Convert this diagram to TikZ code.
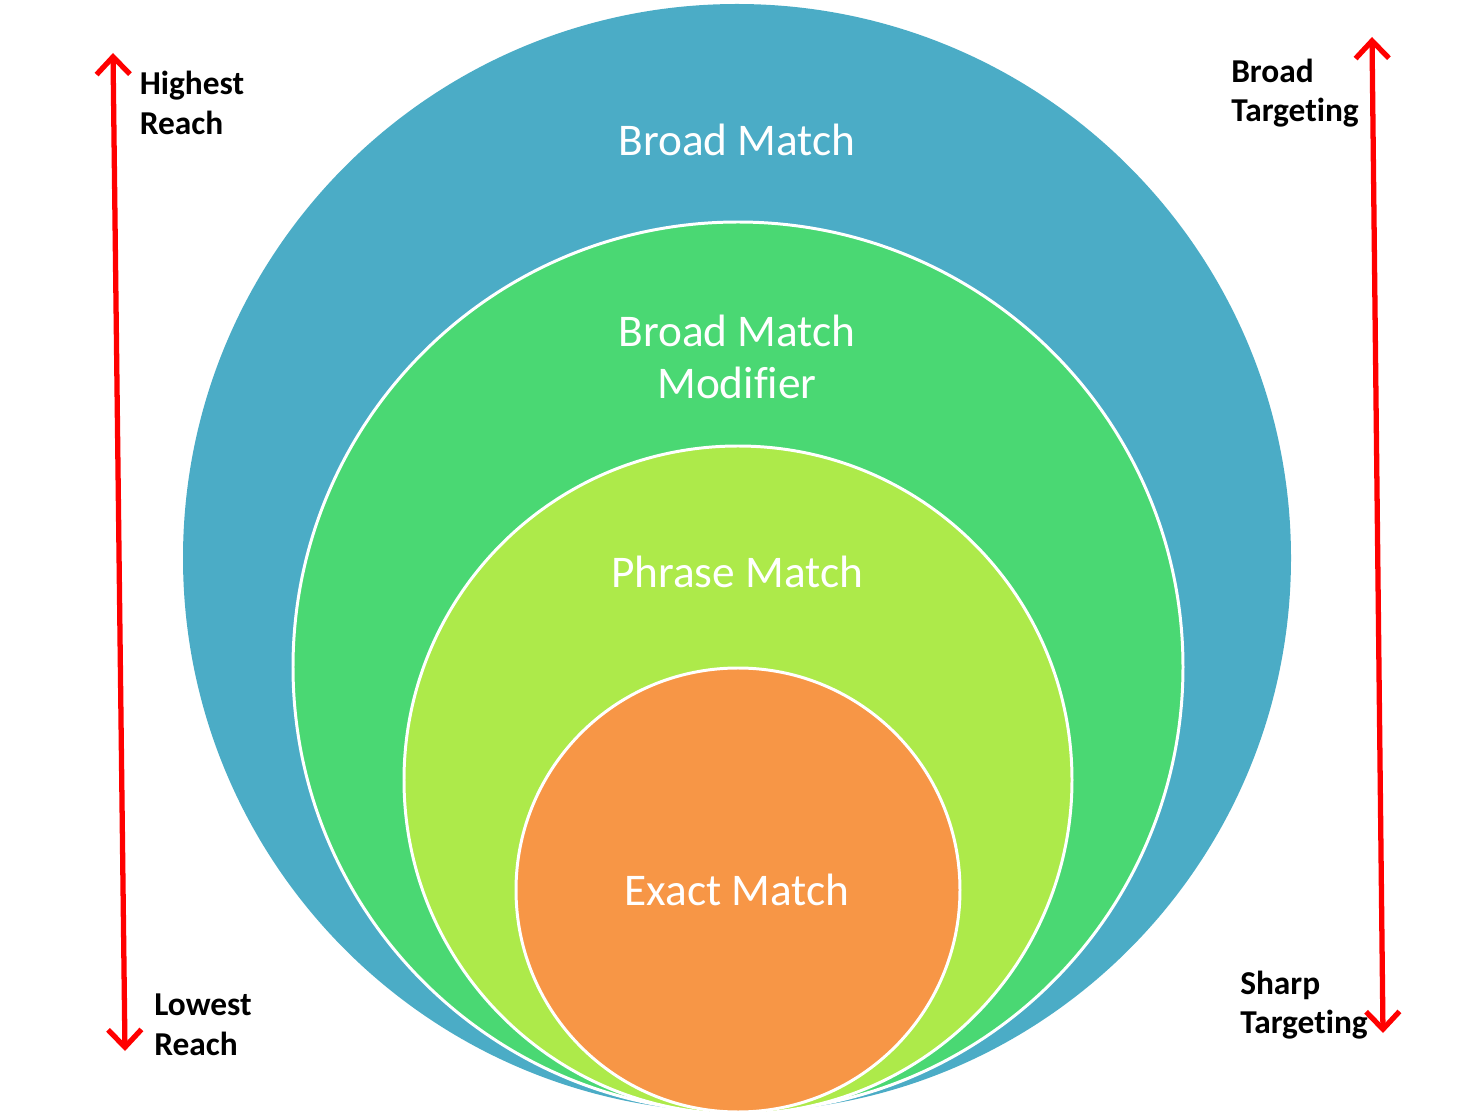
\documentclass[tikz,border=0pt]{standalone}
\usepackage{fontspec}
\setmainfont[Ligatures=NoCommon]{Carlito}
\usetikzlibrary{arrows.meta}
\definecolor{broadblue}{HTML}{4BACC6}
\definecolor{modgreen}{HTML}{4AD873}
\definecolor{phrasegreen}{HTML}{ADEA4A}
\definecolor{exactorange}{HTML}{F79646}
\definecolor{arrowred}{HTML}{FF0000}
\tikzset{
  ring/.style={draw=white,line width=1.7pt},
  ringlabel/.style={text=white,font=\fontsize{25.8}{30}\selectfont,align=center},
  sidelabel/.style={text=black,font=\fontsize{19}{22.5}\selectfont\bfseries,align=left},
  scalearrow/.style={draw=arrowred,line width=3pt,
    {Straight Barb[length=10pt,width=19pt]}-{Straight Barb[length=10pt,width=19pt]}}
}
\begin{document}
\begin{tikzpicture}[x=0.02cm,y=0.02cm]
  \useasboundingbox (0,0) rectangle (1475,1117);
  % nested circles, all touching at the bottom
  \fill[broadblue] (737,559) circle (554);
  \fill[modgreen,ring] (738,450) circle (445);
  \fill[phrasegreen,ring] (738,337) circle (334);
  \fill[exactorange,ring] (738,227) circle (222);
  % circle labels
  \node[ringlabel] (broad) at (737,977) {Broad Match};
  \node[ringlabel] (modifier) at (737,760) {Broad Match\\Modifier};
  \node[ringlabel] (phrase) at (737,545) {Phrase Match};
  \node[ringlabel] (exact) at (737,227) {Exact Match};
  % left scale
  \coordinate (reachtop) at (113,1064);
  \coordinate (reachbot) at (125,66);
  \draw[scalearrow] (reachbot) -- (reachtop);
  \node[sidelabel] (highest) at (192,1014) {Highest\\Reach};
  \node[sidelabel] (lowest) at (203,92) {Lowest\\Reach};
  % right scale
  \coordinate (targettop) at (1372,1080);
  \coordinate (targetbot) at (1383,84);
  \draw[scalearrow] (targetbot) -- (targettop);
  \node[sidelabel] (broadtarget) at (1295,1024) {Broad\\Targeting};
  \node[sidelabel] (sharptarget) at (1304,112) {Sharp\\Targeting};
\end{tikzpicture}
\end{document}
